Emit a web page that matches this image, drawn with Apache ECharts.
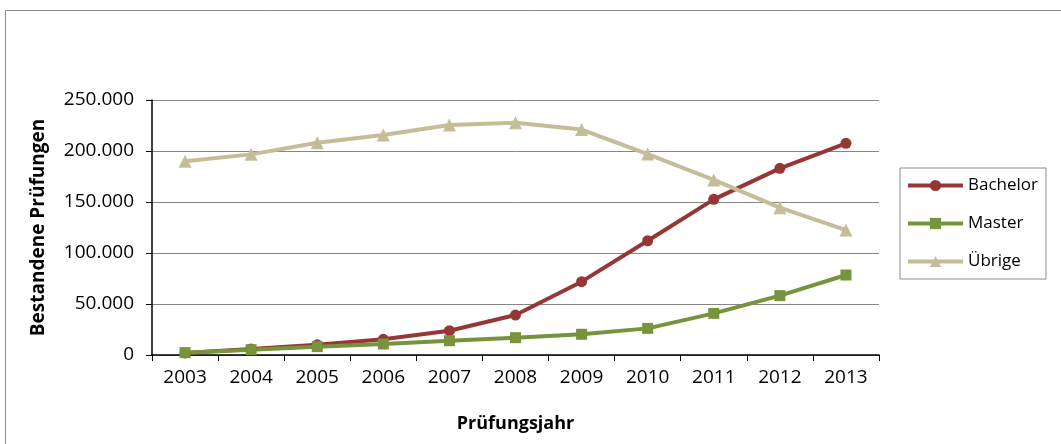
<!DOCTYPE html>
<html>
<head>
<meta charset="utf-8">
<script src="https://cdn.jsdelivr.net/npm/echarts@6/dist/echarts.min.js"></script>
<style>
  html, body { margin: 0; padding: 0; background: #fff; }
  #chart { width: 1061px; height: 444px; }
</style>
</head>
<body>
<div id="chart"></div>
<script>
var years = ['2003', '2004', '2005', '2006', '2007', '2008', '2009', '2010', '2011', '2012', '2013'];
var bachelor = [2000, 6000, 10000, 15400, 23800, 39200, 71900, 112000, 152600, 183000, 207500];
var master = [2300, 5200, 8200, 10800, 14000, 17000, 20300, 26100, 40800, 58200, 78400];
var uebrige = [190000, 196700, 208000, 215700, 225500, 227700, 221000, 197000, 171600, 144400, 122500];

var fontFam = '"Open Sans", "Noto Sans", sans-serif';

var myChart = echarts.init(document.getElementById('chart'));

function fmt(v) {
    return String(v).replace(/\B(?=(\d{3})+(?!\d))/g, '.');
}

var option = {
    animation: false,
    textStyle: { fontFamily: fontFam },
    graphic: [{
        type: 'rect',
        shape: { x: 5.5, y: 10.5, width: 1200, height: 600 },
        style: { fill: 'none', stroke: '#8c8c8c', lineWidth: 1 },
        silent: true
    }],
    grid: { left: 152, right: 182, top: 100, bottom: 89 },
    legend: {
        orient: 'vertical',
        left: 900,
        top: 168,
        borderColor: '#8c8c8c',
        borderWidth: 1,
        padding: [9, 8, 9, 6],
        itemGap: 21,
        itemWidth: 55,
        itemHeight: 14,
        lineStyle: { width: 4 },
        textStyle: { fontSize: 17, color: '#000', fontFamily: fontFam },
        data: ['Bachelor', 'Master', 'Übrige']
    },
    xAxis: {
        type: 'category',
        data: years,
        name: 'Prüfungsjahr',
        nameLocation: 'middle',
        nameGap: 60,
        nameTextStyle: { fontSize: 18, fontWeight: 'bold', color: '#000' },
        axisLine: { lineStyle: { color: '#000', width: 1.5 } },
        axisTick: { show: true, length: 6, lineStyle: { color: '#000' } },
        axisLabel: { fontSize: 19, color: '#000', margin: 13 }
    },
    yAxis: {
        type: 'value',
        min: 0,
        max: 250000,
        interval: 50000,
        name: 'Bestandene Prüfungen',
        nameLocation: 'middle',
        nameGap: 104,
        nameTextStyle: { fontSize: 19, fontWeight: 'bold', color: '#000' },
        axisLine: { show: true, lineStyle: { color: '#000', width: 1.5 } },
        axisTick: { show: true, length: 6, lineStyle: { color: '#000' } },
        axisLabel: { fontSize: 19, color: '#000', margin: 18, formatter: fmt },
        splitLine: { lineStyle: { color: '#868686', width: 1 } }
    },
    series: [
        {
            name: 'Bachelor',
            type: 'line',
            data: bachelor,
            symbol: 'circle',
            symbolSize: 11,
            itemStyle: { color: '#953735' },
            lineStyle: { color: '#953735', width: 4 }
        },
        {
            name: 'Master',
            type: 'line',
            data: master,
            symbol: 'rect',
            symbolSize: 11,
            itemStyle: { color: '#77933c' },
            lineStyle: { color: '#77933c', width: 4 }
        },
        {
            name: 'Übrige',
            type: 'line',
            data: uebrige,
            symbol: 'triangle',
            symbolSize: 13,
            itemStyle: { color: '#c4bd97' },
            lineStyle: { color: '#c4bd97', width: 4 }
        }
    ]
};
myChart.setOption(option);
</script>
</body>
</html>
